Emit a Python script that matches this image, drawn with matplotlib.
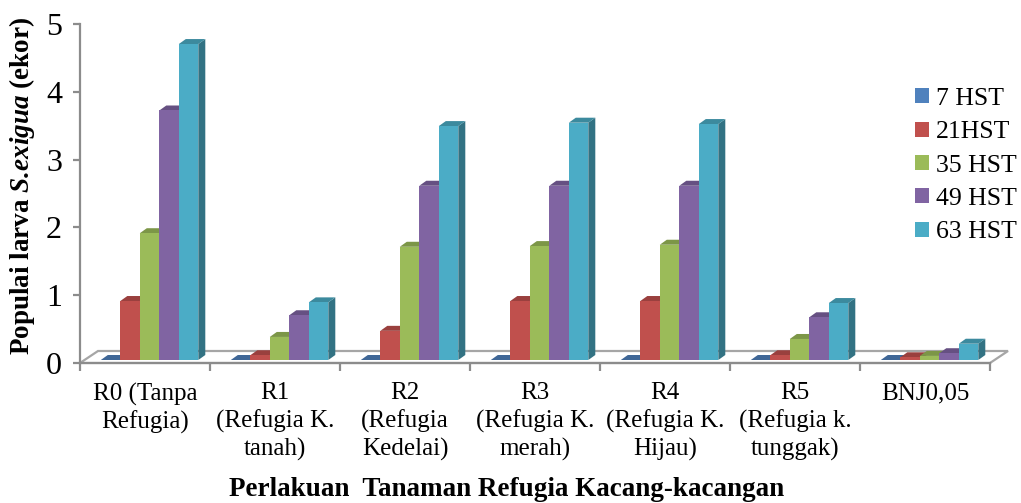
import numpy as np
import matplotlib.pyplot as plt
from matplotlib.patches import Polygon, Patch
from matplotlib.colors import to_rgb

plt.rcParams["font.family"] = "Liberation Serif"
plt.rcParams["mathtext.fontset"] = "custom"
plt.rcParams["mathtext.rm"] = "Liberation Serif"
plt.rcParams["mathtext.bf"] = "Liberation Serif:bold"
plt.rcParams["mathtext.it"] = "Liberation Serif:italic"
plt.rcParams["mathtext.bfit"] = "Liberation Serif:italic:bold"

categories = [
    "R0 (Tanpa\nRefugia)",
    "R1\n(Refugia K.\ntanah)",
    "R2\n(Refugia\nKedelai)",
    "R3\n(Refugia K.\nmerah)",
    "R4\n(Refugia K.\nHijau)",
    "R5\n(Refugia k.\ntunggak)",
    "BNJ0,05",
]
series = ["7 HST", "21HST", "35 HST", "49 HST", "63 HST"]
hst7 = [0.0, 0.0, 0.0, 0.0, 0.0, 0.0, 0.0]
hst21 = [0.87, 0.07, 0.43, 0.87, 0.87, 0.07, 0.04]
hst35 = [1.87, 0.34, 1.67, 1.68, 1.70, 0.31, 0.06]
hst49 = [3.68, 0.66, 2.57, 2.57, 2.57, 0.63, 0.10]
hst63 = [4.66, 0.85, 3.45, 3.50, 3.48, 0.84, 0.24]
values = [hst7, hst21, hst35, hst49, hst63]
colors = ["#4F81BD", "#C0504D", "#9BBB59", "#8064A2", "#4BACC6"]

W, H, DPI = 1021, 503, 100
fig = plt.figure(figsize=(W / DPI, H / DPI), dpi=DPI)
# axes box in pixels: x 80..990, y 24..363 (from top)
ax = fig.add_axes([80 / W, (H - 363) / H, 910 / W, 339 / H])
n = len(categories)
ax.set_xlim(0, n)
ax.set_ylim(0, 5)

# pixel -> data unit helpers
px_x = 910 / n
px_y = 339 / 5


def shade(c, f):
    r, g, b = to_rgb(c)
    return (r * f, g * f, b * f)


# floor of the 3-D plot
fdx, fdy = 18 / px_x, 12 / px_y
floor = Polygon([(0, 0), (n, 0), (n + fdx, fdy), (fdx, fdy)], closed=True,
                facecolor="white", edgecolor="#A6A6A6", lw=1.6,
                clip_on=False, zorder=1)
ax.add_patch(floor)

# column geometry
bw = 0.15
start = 0.16
b0 = 3 / px_y
ddx, ddy = 7 / px_x, 5 / px_y
x = np.arange(n)

for s, (vals, col) in enumerate(zip(values, colors)):
    xs = x + start + s * bw
    z = 3 + s
    ax.bar(xs, vals, width=bw, bottom=b0, align="edge", color=col,
           edgecolor="none", zorder=z + 0.5, clip_on=False)
    for xi, v in zip(xs, vals):
        top = b0 + v
        side = Polygon([(xi + bw, b0), (xi + bw + ddx, b0 + ddy),
                        (xi + bw + ddx, top + ddy), (xi + bw, top)],
                       closed=True, facecolor=shade(col, 0.66),
                       edgecolor="none", zorder=z, clip_on=False)
        lid = Polygon([(xi, top), (xi + bw, top), (xi + bw + ddx, top + ddy),
                       (xi + ddx, top + ddy)], closed=True,
                      facecolor=shade(col, 0.8), edgecolor="none",
                      zorder=z, clip_on=False)
        ax.add_patch(side)
        ax.add_patch(lid)

# axes styling
for sp in ["top", "right"]:
    ax.spines[sp].set_visible(False)
for sp in ["left", "bottom"]:
    ax.spines[sp].set_color("#8C8C8C")
    ax.spines[sp].set_linewidth(1.6)
    ax.spines[sp].set_zorder(2)

ax.set_yticks(range(6))
ax.tick_params(axis="y", which="major", length=5, width=1.6, color="#8C8C8C",
               labelsize=23, pad=8)
ax.set_xticks(range(n + 1))
ax.set_xticklabels([])
ax.set_xticks(x + 0.5, minor=True)
ax.set_xticklabels(categories, minor=True, fontsize=18, linespacing=1.28)
ax.tick_params(axis="x", which="major", length=6, width=1.6, color="#8C8C8C")
ax.tick_params(axis="x", which="minor", length=0, pad=14)

fig.text(507 / W, 1 - 490 / H, "Perlakuan  Tanaman Refugia Kacang-kacangan",
         ha="center", va="center", fontsize=19.5, fontweight="bold")
fig.text(22 / W, 1 - 186 / H,
         r"$\mathbf{Populai\ larva\ }\mathbfit{S.\!exigua}\mathbf{\ (ekor)}$",
         ha="center", va="center", rotation=90, fontsize=19.5)

handles = [Patch(facecolor=c, edgecolor="none") for c in colors]
fig.legend(handles, series, loc="upper left",
           bbox_to_anchor=(915 / W, 1 - 88 / H), frameon=False, fontsize=18.5,
           handlelength=0.53, handleheight=0.53, handletextpad=0.27,
           labelspacing=0.44, borderaxespad=0, borderpad=0)

fig.savefig("out.png", dpi=DPI)
